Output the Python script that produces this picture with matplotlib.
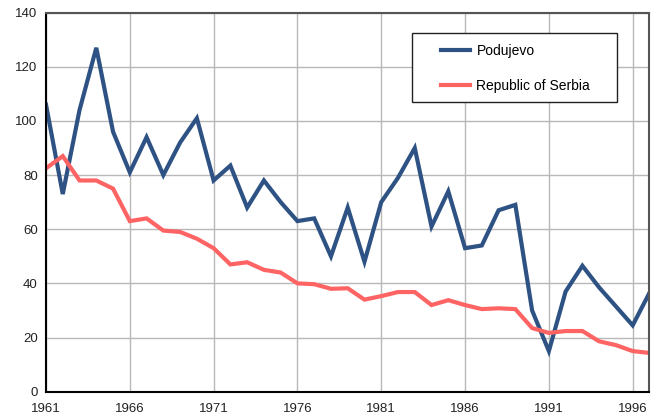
import matplotlib
matplotlib.use("Agg")
import matplotlib.pyplot as plt
from matplotlib.patches import Rectangle

years = list(range(1961, 1998))
podujevo = [106, 73, 104, 127, 96, 81, 94, 80, 92, 101,
            78, 83.5, 68, 78, 70, 63, 64, 50, 68, 48,
            70, 79, 90, 61, 74, 53, 54, 67, 69, 30,
            15, 37, 46.5, 38.5, 31.5, 24.5, 36.5]
serbia = [82.5, 87, 78, 78, 75, 63, 64, 59.5, 59, 56.5,
          53, 47, 47.8, 45, 44, 40, 39.7, 38, 38.2, 34,
          35.3, 36.8, 36.8, 32, 33.8, 32, 30.5, 30.8, 30.5, 23.5,
          21.7, 22.4, 22.4, 18.6, 17.2, 15, 14.3]
xticks = list(range(1961, 1997, 5))
yticks = list(range(0, 141, 20))

plt.rcParams["font.family"] = ["Liberation Sans", "DejaVu Sans"]

fig = plt.figure(figsize=(6.6, 4.2), dpi=100)
ax = fig.add_axes([0.0697, 0.0674, 0.9143, 0.9026])

ax.plot(years, podujevo, color="#2e5283", lw=3, label="Podujevo", solid_joinstyle="miter")
ax.plot(years, serbia, color="#ff6464", lw=3, label="Republic of Serbia", solid_joinstyle="miter")

ax.set_xlim(1961, 1997)
ax.set_ylim(0, 140)
ax.set_xticks(xticks)
ax.set_yticks(yticks)
ax.tick_params(length=0, labelsize=9.5, colors="#222222", pad=6)
ax.tick_params(axis="x", pad=8)
ax.grid(True, color="#b8b8b8", lw=1)
ax.set_axisbelow(True)

for s in ["top", "right"]:
    ax.spines[s].set_color("#555555")
    ax.spines[s].set_linewidth(1.5)
for s in ["left", "bottom"]:
    ax.spines[s].set_color("black")
    ax.spines[s].set_linewidth(1.5)

# legend box drawn by hand, legend itself frameless
ax.add_patch(Rectangle((0.6066, 0.764), 0.3397, 0.182, transform=ax.transAxes,
                       facecolor="white", edgecolor="#222222", lw=1, zorder=5))
leg = ax.legend(loc="upper left", bbox_to_anchor=(0.6546, 0.917), fontsize=10,
                frameon=False, labelspacing=1.5, handlelength=2.1,
                handletextpad=0.45, borderpad=0, borderaxespad=0)
leg.set_zorder(6)

fig.savefig("out.png", dpi=100)
